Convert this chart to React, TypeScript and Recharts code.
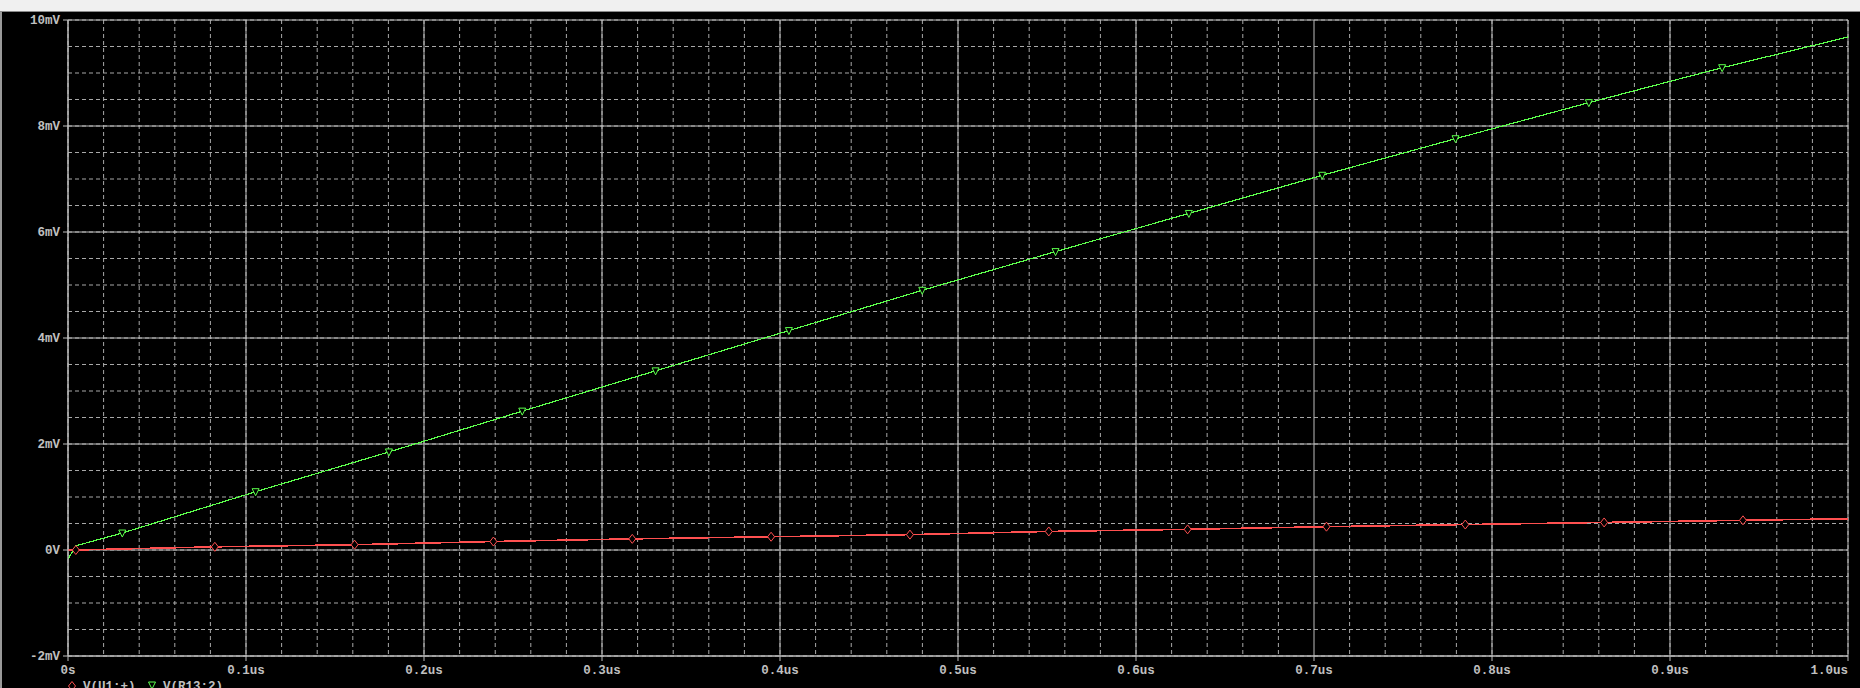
import { CartesianGrid, ComposedChart, Line, XAxis, YAxis } from "recharts";

// time axis (us) and tick labels
const xTicks = [0, 0.1, 0.2, 0.3, 0.4, 0.5, 0.6, 0.7, 0.8, 0.9, 1.0];
const xTickLabels = ["0s", "0.1us", "0.2us", "0.3us", "0.4us", "0.5us", "0.6us", "0.7us", "0.8us", "0.9us", "1.0us"];
const yTicks = [-2, 0, 2, 4, 6, 8, 10];
const yTickLabels = ["-2mV", "0V", "2mV", "4mV", "6mV", "8mV", "10mV"];

// V(R13:2) trace, mV
const greenT = [0, 0.0045, 0.0305, 0.1054, 0.1803, 0.2552, 0.3301, 0.405, 0.4799, 0.5548, 0.6297, 0.7046, 0.7795, 0.8544, 0.9293, 1.0];
const greenV = [-0.17, 0.08, 0.32, 1.1, 1.85, 2.62, 3.38, 4.14, 4.9, 5.63, 6.35, 7.07, 7.76, 8.44, 9.1, 9.68];
const greenMark = [false, false, true, true, true, true, true, true, true, true, true, true, true, true, true, false];

// V(U1:+) trace, mV
const redT = [0, 0.0044, 0.0825, 0.161, 0.239, 0.317, 0.395, 0.473, 0.551, 0.629, 0.707, 0.785, 0.863, 0.941, 1.0];
const redV = [0, 0, 0.06, 0.1, 0.16, 0.21, 0.25, 0.29, 0.35, 0.39, 0.44, 0.48, 0.52, 0.56, 0.59];
const redMark = [false, true, true, true, true, true, true, true, true, true, true, true, true, true, false];

const greenData = greenT.map((t, i) => ({ t, v: greenV[i], m: greenMark[i] }));
const redData = redT.map((t, i) => ({ t, v: redV[i], m: redMark[i] }));

// grid: minor every 0.02us / 0.5mV
const minorX = Array.from({ length: 51 }, (_, i) => i * 0.02);
const minorY = Array.from({ length: 25 }, (_, i) => -2 + i * 0.5);

const GREEN = "#5cff4c";
const RED = "#ff5050";
const TXT = "#c0c0c0";
const FONT = "'Liberation Mono', 'DejaVu Sans Mono', monospace";

const XTick = (props: any) => {
  const { x, y, payload } = props;
  const v = payload.value;
  const label = xTickLabels[xTicks.indexOf(v)];
  return (
    <text x={x} y={y + 11} textAnchor={v === 1 ? "end" : "middle"} fill={TXT} fontFamily={FONT} fontWeight="bold" fontSize={12.5}>
      {label}
    </text>
  );
};

const YTick = (props: any) => {
  const { x, y, payload } = props;
  const label = yTickLabels[yTicks.indexOf(payload.value)];
  return (
    <text x={x} y={y + 4} textAnchor="end" fill={TXT} fontFamily={FONT} fontWeight="bold" fontSize={12.5}>
      {label}
    </text>
  );
};

const triDot = (p: any) =>
  p.payload.m ? (
    <path key={p.index} d={`M${p.cx - 3.5},${p.cy - 3} L${p.cx + 3.5},${p.cy - 3} L${p.cx},${p.cy + 4} Z`} fill="#000" stroke={GREEN} strokeWidth={1} />
  ) : (
    <g key={p.index} />
  );

const diaDot = (p: any) =>
  p.payload.m ? (
    <path key={p.index} d={`M${p.cx},${p.cy - 4.5} L${p.cx + 3.5},${p.cy} L${p.cx},${p.cy + 4.5} L${p.cx - 3.5},${p.cy} Z`} fill="#000" stroke={RED} strokeWidth={1} />
  ) : (
    <g key={p.index} />
  );

export default function App() {
  return (
    <div style={{ position: "fixed", left: 0, top: 0, width: 1860, height: 688, background: "#000", overflow: "hidden" }}>
      <ComposedChart width={1860} height={688} margin={{ top: 20, right: 12, bottom: 0, left: 0 }}>
        <CartesianGrid verticalValues={minorX} horizontalValues={minorY} stroke="#a8a8a8" strokeDasharray="4 3" />
        <CartesianGrid verticalValues={xTicks} horizontalValues={yTicks} stroke="#bdbdbd" />
        <XAxis
          type="number"
          dataKey="t"
          domain={[0, 1]}
          ticks={xTicks}
          height={32}
          tickSize={5}
          stroke="#bdbdbd"
          tick={<XTick />}
          allowDataOverflow
        />
        <YAxis
          type="number"
          domain={[-2, 10]}
          ticks={yTicks}
          width={68}
          tickSize={5}
          tickMargin={3}
          stroke="#bdbdbd"
          tick={<YTick />}
          allowDataOverflow
        />
        <Line data={redData} dataKey="v" type="linear" stroke={RED} strokeWidth={1.6} dot={diaDot} activeDot={false} isAnimationActive={false} shapeRendering="crispEdges" />
        <Line data={greenData} dataKey="v" type="linear" stroke={GREEN} strokeWidth={1.2} dot={triDot} activeDot={false} isAnimationActive={false} shapeRendering="crispEdges" />
      </ComposedChart>
      <div style={{ position: "absolute", left: 0, top: 0, width: 1860, height: 11, background: "#f0f0f0", borderBottom: "1px solid #8a8a8a" }} />
      <div style={{ position: "absolute", left: 0, top: 12, width: 2, height: 676, background: "#9a9a9a" }} />
      <svg style={{ position: "absolute", left: 0, top: 0 }} width={1860} height={688}>
        <path d="M72,681.5 L75.5,686 L72,690.5 L68.5,686 Z" fill="none" stroke={RED} />
        <text x={83} y={690} fill={TXT} fontFamily={FONT} fontWeight="bold" fontSize={12.5}>V(U1:+)</text>
        <path d="M148.5,682 L155.5,682 L152,689 Z" fill="none" stroke={GREEN} />
        <text x={163} y={690} fill={TXT} fontFamily={FONT} fontWeight="bold" fontSize={12.5}>V(R13:2)</text>
      </svg>
    </div>
  );
}
